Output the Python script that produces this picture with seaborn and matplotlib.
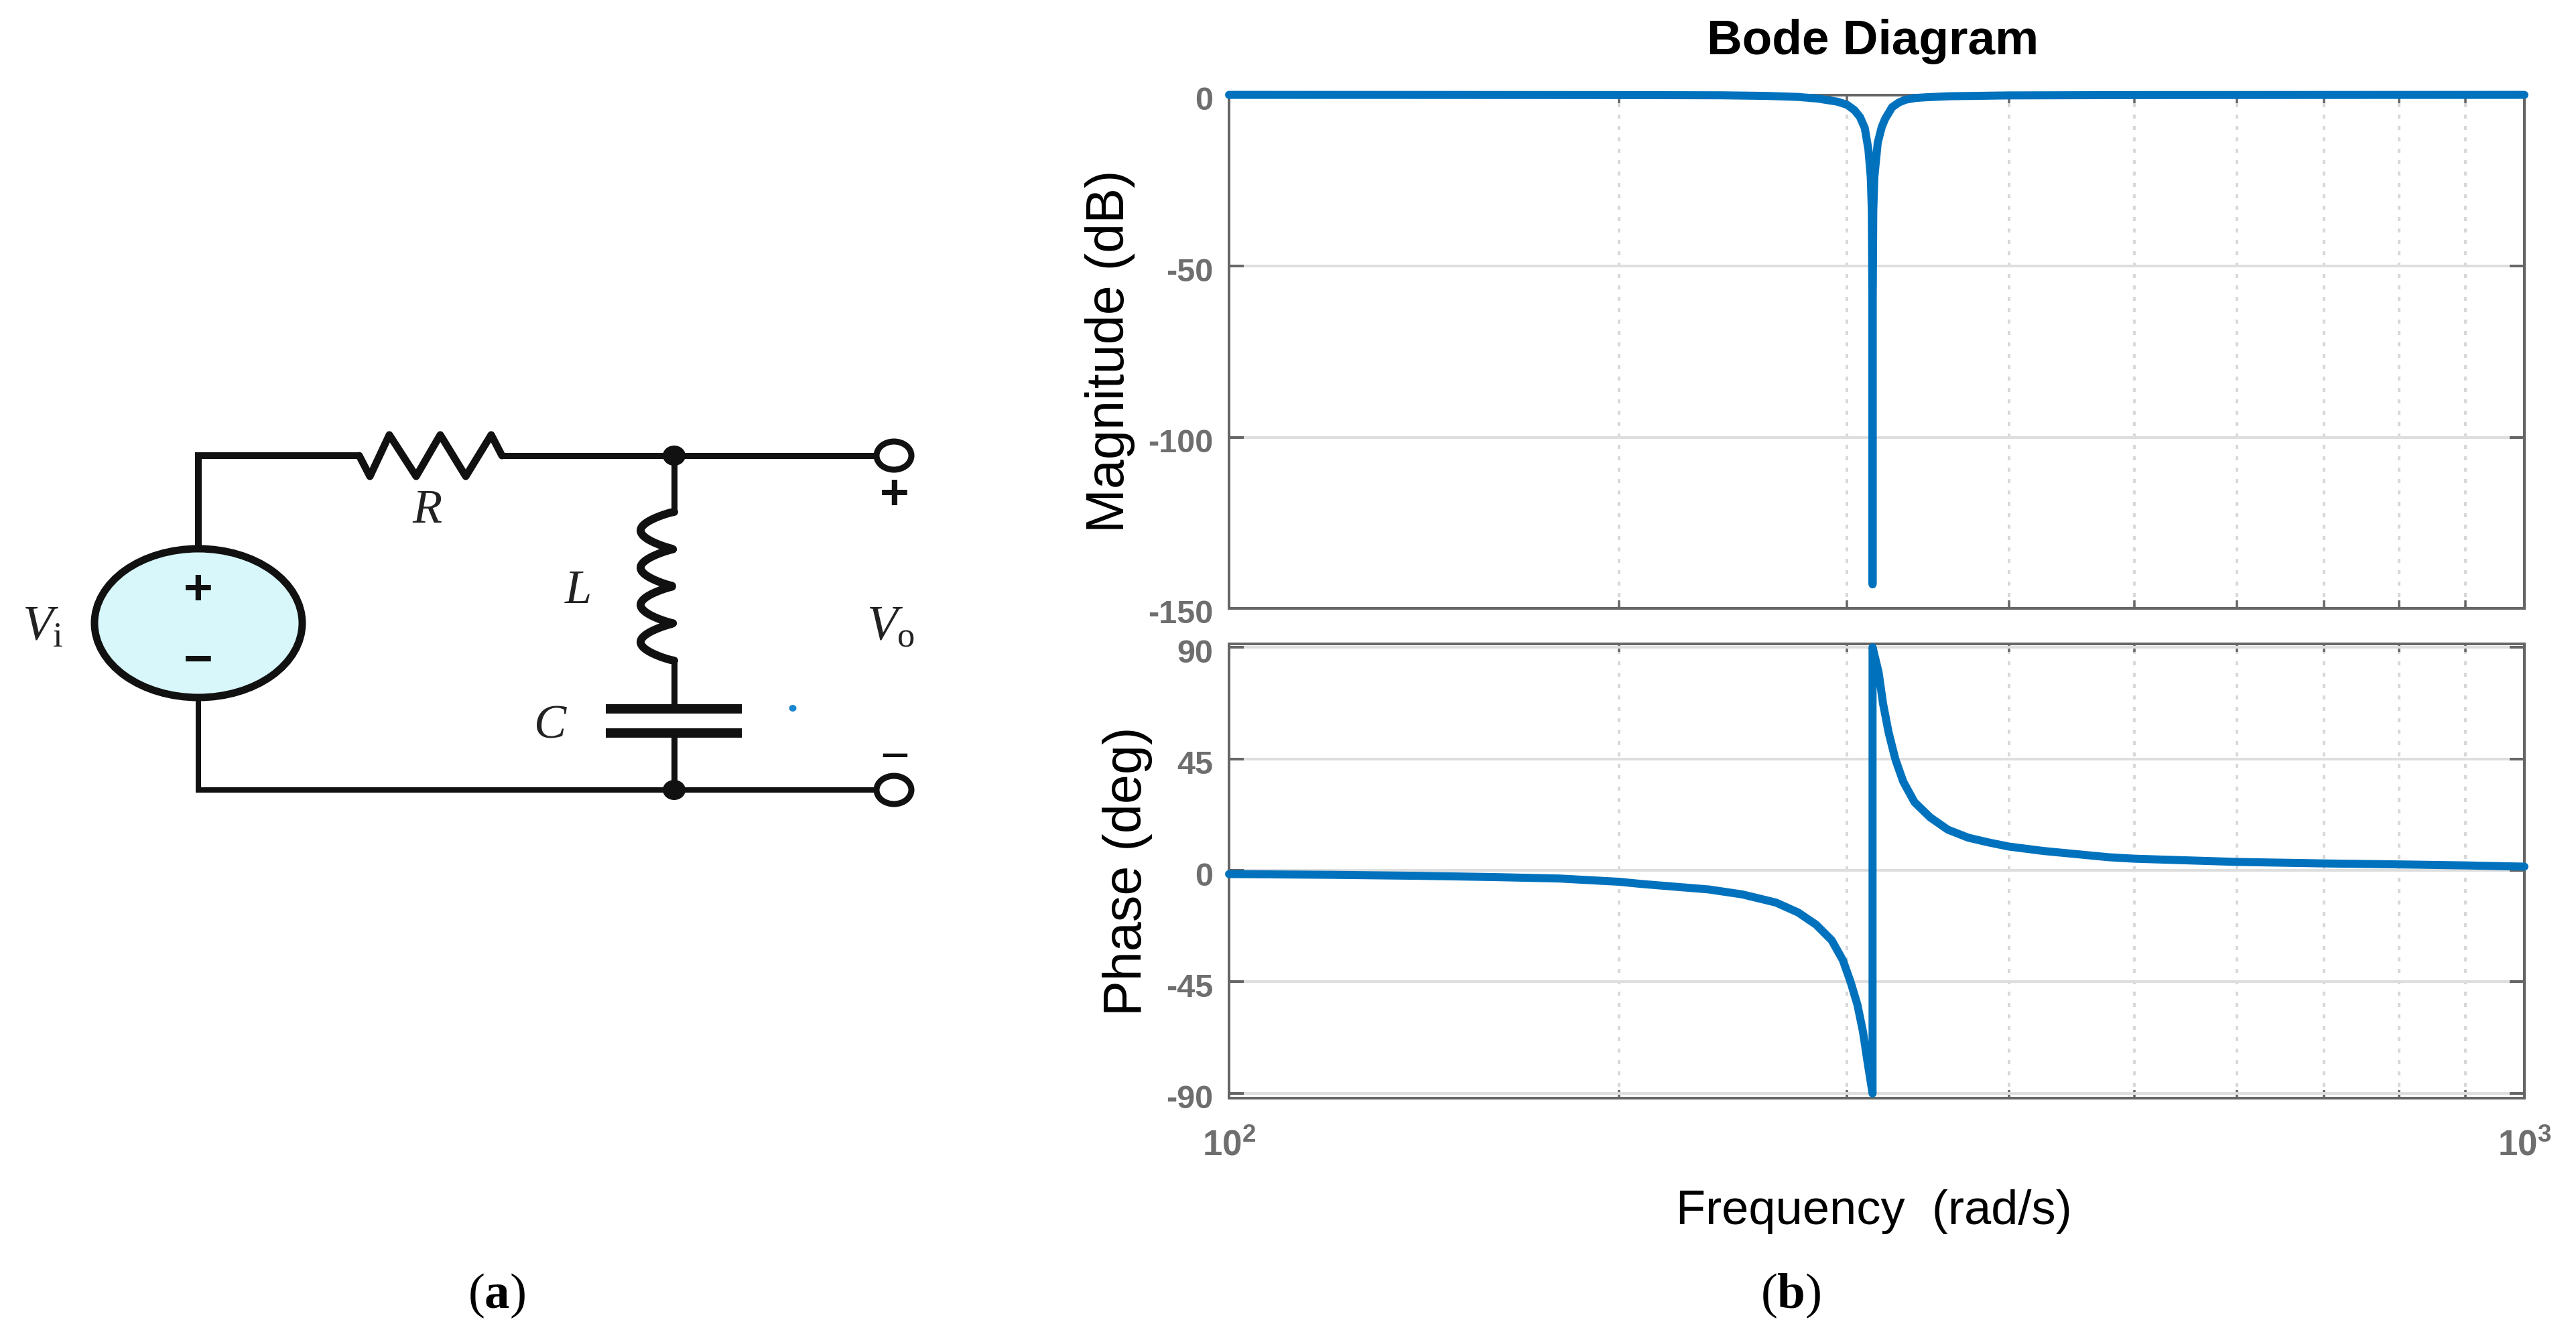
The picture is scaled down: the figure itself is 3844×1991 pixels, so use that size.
import numpy as np
import matplotlib
matplotlib.use('Agg')
import matplotlib.pyplot as plt
from matplotlib.patches import Ellipse
from matplotlib.transforms import ScaledTranslation
import seaborn as sns

W, H = 3844, 1991
DPI = 200
PX = 72 / DPI  # points per output pixel

# values
mag_freq = [100, 150, 200, 240, 260, 275, 285, 295, 300, 304, 307, 309.6, 311.6, 312.9, 313.5, 313.8,
            313.9, 314.0, 314.3, 314.9, 316.8, 319, 321, 325, 329, 333, 339, 345, 360, 400, 500, 700, 1000]
mag_db = [0, -0.02, -0.05, -0.12, -0.3, -0.6, -1.1, -2, -2.9, -4.5, -6.5, -9.7, -16, -24, -34, -60,
          -143, -60, -34, -24, -14, -9.5, -7, -3.6, -2.2, -1.4, -0.9, -0.7, -0.4, -0.15, -0.05, -0.02, 0]

phase_freq = [100, 120, 140, 160, 180, 200, 208.3, 221, 234.6, 249, 264.4, 275, 283.9, 291.9, 297.8,
              302, 305.6, 308.6, 311, 313.9,
              313.9, 317.3, 319.8, 323, 326.9, 331.5, 338.2, 347.7, 358.9, 372, 385.5, 400, 425.7, 477.6,
              500, 600, 700, 800, 900, 1000]
phase_deg = [-1.5, -1.8, -2.2, -2.7, -3.3, -4.6, -5.5, -6.6, -7.7, -9.7, -13, -17, -21.9, -28.2, -36.3,
             -45.3, -54.3, -65.1, -76.8, -90,
             90, 79.9, 67.3, 55.6, 44.8, 35.8, 27.5, 21.4, 16.4, 13.2, 11.3, 9.6, 7.8, 5.3,
             4.7, 3.4, 2.8, 2.4, 2.0, 1.5]

mag_ticks = [0, -50, -100, -150]
mag_labels = ['0', '-50', '-100', '-150']
phase_ticks = [90, 45, 0, -45, -90]
phase_labels = ['90', '45', '0', '-45', '-90']
freq_ticks = [100, 1000]
freq_labels = [r'$\mathsf{10^{2}}$', r'$\mathsf{10^{3}}$']
freq_minor = [200, 300, 400, 500, 600, 700, 800, 900]

sns.set_theme(style='white')
plt.rcParams['font.family'] = ['Liberation Sans', 'DejaVu Sans']
plt.rcParams['mathtext.fontset'] = 'custom'
plt.rcParams['mathtext.rm'] = 'Liberation Serif'
plt.rcParams['mathtext.it'] = 'Liberation Serif:italic'
plt.rcParams['mathtext.bf'] = 'Liberation Serif:bold'
plt.rcParams['mathtext.sf'] = 'Liberation Sans:bold'

LINE = '#0072bd'
AXC = '#666666'
TICKC = '#6e6e6e'
GRIDC = '#dedede'

fig = plt.figure(figsize=(W / DPI, H / DPI), dpi=DPI)

# overlay in pixel coordinates for the schematic and captions
ov = fig.add_axes([0, 0, 1, 1])
ov.set_xlim(0, W)
ov.set_ylim(H, 0)
ov.axis('off')


def box(left, top, right, bottom):
    return [left / W, 1 - bottom / H, (right - left) / W, (bottom - top) / H]


ax1 = fig.add_axes(box(1834, 141.6, 3767, 908))
ax2 = fig.add_axes(box(1834, 960.5, 3767, 1639))

sns.lineplot(x=mag_freq, y=mag_db, ax=ax1, color=LINE, lw=12 * PX, estimator=None, sort=False,
             clip_on=False, zorder=5)
sns.lineplot(x=phase_freq, y=phase_deg, ax=ax2, color=LINE, lw=12 * PX, estimator=None, sort=False,
             clip_on=False, zorder=5)

ax1.set_ylim(-150, 0)
ax2.set_ylim(-91.9, 91.5)
ax1.set_yticks(mag_ticks, mag_labels)
ax2.set_yticks(phase_ticks, phase_labels)

for ax in (ax1, ax2):
    ax.set_xscale('log')
    ax.set_xlim(100, 1000)
    ax.set_xticks(freq_ticks)
    ax.set_xticks(freq_minor, minor=True)
    ax.set_xticklabels([], minor=True)
    ax.set_axisbelow(True)
    ax.grid(True, axis='y', which='major', color=GRIDC, lw=4 * PX)
    ax.grid(True, axis='x', which='minor', color='#d8d8d8', lw=4 * PX, ls=(0, (1.5, 2.75)))
    ax.tick_params(axis='y', which='major', direction='in', left=True, right=True, length=22 * PX,
                   width=4 * PX, color=AXC, labelcolor=TICKC, labelsize=17.5, pad=24 * PX)
    ax.tick_params(axis='x', which='both', direction='in', bottom=True, top=True, length=12 * PX,
                   width=3.5 * PX, color=AXC)
    for s in ax.spines.values():
        s.set_color(AXC)
        s.set_linewidth(4 * PX)
    for lab in ax.get_yticklabels():
        lab.set_fontweight('bold')
        lab.set_transform(lab.get_transform() + ScaledTranslation(0, -5 / DPI, fig.dpi_scale_trans))

ax1.set_xticklabels([])
ax2.set_xticklabels(freq_labels)
ax2.tick_params(axis='x', which='major', labelcolor=TICKC, labelsize=19, pad=46 * PX)

ax1.set_ylabel('Magnitude (dB)', fontsize=28.5, color='black')
ax1.yaxis.set_label_coords(1694, 524, transform=ov.transData)
ax2.set_ylabel('Phase (deg)', fontsize=28.5, color='black')
ax2.yaxis.set_label_coords(1720, 1300, transform=ov.transData)
ax2.set_xlabel('Frequency  (rad/s)', fontsize=26, color='black')
ax2.xaxis.set_label_coords(2796, 1775, transform=ov.transData)
ov.text(2795, 62, 'Bode Diagram', fontsize=26.3, fontweight='bold', color='black', ha='center', va='center')

# schematic
WIRE = dict(color='#111111', solid_capstyle='butt', solid_joinstyle='miter')
ov.plot([296, 296, 536], [818, 680, 680], lw=10 * PX, **WIRE)
ov.plot([749, 1334], [680, 680], lw=9 * PX, **WIRE)
ov.plot([296, 296, 1334], [1041, 1179, 1179], lw=8 * PX, **WIRE)
ov.plot([536, 552, 581, 621, 657, 695, 733, 749], [680, 711, 649, 711, 649, 711, 649, 680], lw=11 * PX,
        color='#111111', solid_joinstyle='round')

ov.plot([1006, 1006], [680, 764], lw=9 * PX, **WIRE)
ct = np.linspace(0, 1, 200)
ov.plot(1006 - 50 * np.abs(np.sin(4 * np.pi * ct)) ** 0.8, 764 + 222 * ct, lw=12 * PX, color='#111111')
ov.plot([1006, 1006], [986, 1058], lw=9 * PX, **WIRE)
ov.plot([1006, 1006], [1094, 1179], lw=9 * PX, **WIRE)
ov.plot([904, 1107], [1058, 1058], lw=14 * PX, **WIRE)
ov.plot([904, 1107], [1094, 1094], lw=14 * PX, **WIRE)

ov.add_patch(Ellipse((296, 930), 310, 222, fc='#d8f7fa', ec='#111111', lw=11 * PX, zorder=3))
for yy in (680, 1179):
    ov.add_patch(Ellipse((1006, yy), 34, 30, fc='#111111', ec='none', zorder=4))
    ov.add_patch(Ellipse((1334, yy), 52, 42, fc='white', ec='#111111', lw=9 * PX, zorder=4))
ov.add_patch(Ellipse((1183, 1057), 11, 10, fc='#1a85d0', ec='none', zorder=4))

ov.text(296, 883, '+', fontsize=27, fontweight='bold', ha='center', va='center', color='#111111', zorder=5)
ov.text(296, 988, '\u2212', fontsize=27, fontweight='bold', ha='center', va='center', color='#111111', zorder=5)
ov.text(1335, 740, '+', fontsize=27, fontweight='bold', ha='center', va='center', color='#111111')
ov.text(1335, 1132, '\u2212', fontsize=27, ha='center', va='center', color='#111111')

ov.text(64, 936, r'$\mathit{V}_{\mathrm{i}}$', fontsize=27, ha='center', va='center', color='#222222')
ov.text(1329, 936, r'$\mathit{V}_{\mathrm{o}}$', fontsize=27, ha='center', va='center', color='#222222')
ov.text(638, 762, r'$\mathit{R}$', fontsize=26, ha='center', va='center', color='#222222')
ov.text(862, 882, r'$\mathit{L}$', fontsize=26, ha='center', va='center', color='#222222')
ov.text(821, 1082, r'$\mathit{C}$', fontsize=26, ha='center', va='center', color='#222222')

ov.text(741, 1934, r'$(\mathbf{a})$', fontsize=27, ha='center', va='center', color='black')
ov.text(2672, 1934, r'$(\mathbf{b})$', fontsize=27, ha='center', va='center', color='black')

fig.savefig('out.png', dpi=DPI, facecolor='white')
